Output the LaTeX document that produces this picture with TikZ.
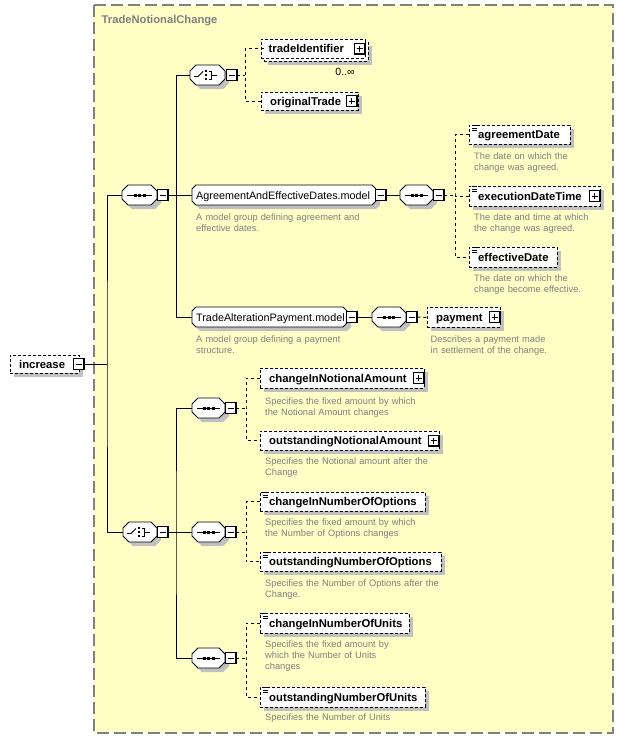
\documentclass[tikz,border=0pt]{standalone}
\usepackage{fontspec}
\setmainfont{Liberation Sans}
\usetikzlibrary{shadows}
\definecolor{bg}{HTML}{FFFFC6}
\definecolor{shadc}{HTML}{C0C0C0}
\definecolor{desc}{HTML}{808080}
\definecolor{framec}{HTML}{808080}
\tikzset{
  shd/.style={drop shadow={shadow xshift=4pt, shadow yshift=-4pt, fill=shadc, opacity=1}},
  elplain/.style={draw, dash pattern=on 3pt off 2pt, line width=0.9pt, fill=white, rectangle, inner sep=0pt, anchor=north west},
  elbox/.style={elplain, shd},
  elname/.style={anchor=base west, inner sep=0pt, font=\fontsize{11.3}{13}\selectfont\bfseries},
  mtext/.style={anchor=base west, inner sep=0pt, font=\fontsize{10.8}{13}\selectfont},
  descr/.style={anchor=base west, inner sep=0pt, text width=220pt, align=left, text=desc, font=\fontsize{9.3}{11.3}\selectfont},
  grpbox/.style={rectangle, minimum height=20pt, inner sep=0pt, outer sep=0pt},
  octo/.style={draw, line width=0.9pt, fill=white, shd},
  pmbox/.style={draw, fill=white, line width=0.8pt, minimum size=11pt, inner sep=0pt},
  conn/.style={line width=1pt},
  dconn/.style={line width=1pt, dash pattern=on 3pt off 3pt},
}
\newcommand\El[6]{%
  \node[elbox, minimum width={(#4-#2)*1pt}, minimum height={(#5-#3)*1pt}] (#1) at (#2,#3) {};
  \node[elname] (#1-t) at ({#2+9},{(#3+#5)/2+4}) {#6};}
\newcommand\PM[4]{%
  \node[pmbox] (#1) at ({#2+5.5},#3) {};
  \draw[line width=1.4pt] ([xshift=-0.3pt]#1.north east) -- ([xshift=-0.3pt,yshift=0.3pt]#1.south east) -- ([yshift=0.3pt]#1.south west);
  \draw[line width=0.9pt] (#1.center) ++(-3,0) -- ++(6,0);
  \ifnum#4=1 \draw[line width=0.9pt] (#1.center) ++(0,-3) -- ++(0,6);\fi}
\newcommand\Simp[1]{\draw[line width=0.8pt] (#1.north west) ++(3,0.5) -- ++(5,0) ++(-5,2.4) -- ++(5,0) ++(-5,2.4) -- ++(5,0);}
% octagon outline: #1 name, #2 width, #3 chamfer
\newcommand\Octo[3]{%
  \draw[octo] (#1.north west) ++(#3,0) -- ++({#2-2*#3},0) -- ++(#3,#3) -- ++(0,{20-2*#3}) -- ++(-#3,#3) -- ++({-(#2-2*#3)},0) -- ++(-#3,-#3) -- ++(0,{-(20-2*#3)}) -- cycle;}
\newcommand\Seq[4]{%
  \node[grpbox, minimum width={(#3-#2)*1pt}] (#1) at ({(#2+#3)/2},#4) {};
  \Octo{#1}{#3-#2}{6}
  \draw[line width=0.9pt] (#1.west) ++(5,0) -- ++({#3-#2-10},0);
  \foreach \d in {-4.5,0,4.5} {\fill (#1.center) ++({\d-1.5},-1.5) rectangle ++(3,3);}}
\newcommand\Ch[4]{%
  \node[grpbox, minimum width={(#3-#2)*1pt}] (#1) at ({(#2+#3)/2},#4) {};
  \Octo{#1}{#3-#2}{6}
  \draw[line width=0.9pt] (#1.west) ++(4,1.5) -- ++(4,0) -- ++(5,-5);
  \foreach \d in {-4,0,4} {\fill (#1.west) ++(15,{\d-1}) rectangle ++(2.2,2.2);}
  \draw[line width=0.9pt] (#1.west) ++(18.5,-4) -- ++(3,0) -- ++(0,8) -- ++(-3,0);
  \draw[line width=0.9pt] (#1.west) ++(21.5,0) -- ++(5,0);}
\newcommand\Model[5]{%
  \node[grpbox, minimum width={(#3-#2)*1pt}] (#1) at ({(#2+#3)/2},#4) {};
  \Octo{#1}{#3-#2}{4}
  \node[mtext] (#1-t) at ({#2+4},{#4+4}) {#5};}
\begin{document}
\begin{tikzpicture}[x=1pt,y=-1pt]
\useasboundingbox (0,0) rectangle (624,739);
\fill[bg] (94,5) rectangle (613,733);
\draw[framec, line width=1.2pt, dash pattern=on 12pt off 5pt] (94,5) rectangle (613,733);
\node[anchor=base west, inner sep=0pt, text=desc, font=\fontsize{11.2}{13}\selectfont\bfseries] (title) at (101.5,23) {TradeNotionalChange};

% root element
\El{inc}{10}{355}{79}{373}{increase}
\PM{incm}{73}{364}{0}

% top sequence and choice
\Seq{seqA}{122}{157}{195}
\PM{seqAm}{157}{195}{0}
\Ch{chA}{190}{225}{75}
\PM{chAm}{226}{75}{0}

% tradeIdentifier (multiple) and originalTrade
\node[elbox, minimum width=104pt, minimum height=19pt] (tidb) at (264,42) {};
\node[elplain, minimum width=104pt, minimum height=19pt] (tid) at (261,39) {};
\node[elname] (tid-t) at (268.5,52.5) {tradeIdentifier};
\PM{tidp}{354}{48.5}{1}
\node[anchor=base, inner sep=0pt, font=\fontsize{10.5}{12}\selectfont] (occ) at (345,75.5) {0..∞};
\El{otr}{261}{92}{358}{110}{originalTrade}
\PM{otrp}{346}{101}{1}

% AgreementAndEffectiveDates.model
\Model{agr}{192}{376}{195}{AgreementAndEffectiveDates.model}
\PM{agrm}{375}{195}{0}
\Seq{seqB}{400}{433}{195}
\PM{seqBm}{433}{195}{0}
\El{agD}{469}{125}{570}{144}{agreementDate}
\Simp{agD}
\El{exD}{469}{186}{600}{206}{executionDateTime}
\Simp{exD}
\PM{exDp}{589}{196}{1}
\El{efD}{469}{247}{557}{267}{effectiveDate}
\Simp{efD}

% TradeAlterationPayment.model
\Model{tap}{192}{347}{317}{TradeAlterationPayment.model}
\PM{tapm}{346}{317}{0}
\Seq{seqC}{372}{406}{317}
\PM{seqCm}{406}{317}{0}
\El{pay}{427}{307}{500}{327}{payment}
\PM{payp}{489}{317}{1}

% bottom choice
\Ch{chB}{123}{157}{532}
\PM{chBm}{157}{532}{0}
\Seq{s1}{192}{225}{408}
\PM{s1m}{225}{408}{0}
\Seq{s2}{192}{225}{532}
\PM{s2m}{225}{532}{0}
\Seq{s3}{192}{225}{658}
\PM{s3m}{225}{658}{0}

\El{cna}{260}{368}{424}{388}{changeInNotionalAmount}
\PM{cnap}{413}{378}{1}
\El{ona}{260}{431}{439}{450}{outstandingNotionalAmount}
\PM{onap}{428}{440.5}{1}
\El{cno}{260}{492}{425}{511}{changeInNumberOfOptions}
\Simp{cno}
\El{ono}{260}{552}{441}{571}{outstandingNumberOfOptions}
\Simp{ono}
\El{cnu}{260}{613}{409}{633}{changeInNumberOfUnits}
\Simp{cnu}
\El{onu}{260}{687}{425}{707}{outstandingNumberOfUnits}
\Simp{onu}

% descriptions
\node[descr] (d-agr) at (196,220.5) {A model group defining agreement and\\effective dates.};
\node[descr] (d-agD) at (474,159.5) {The date on which the\\change was agreed.};
\node[descr] (d-exD) at (474,220.5) {The date and time at which\\the change was agreed.};
\node[descr] (d-efD) at (474,281.5) {The date on which the\\change become effective.};
\node[descr] (d-tap) at (196,342) {A model group defining a payment\\structure.};
\node[descr] (d-pay) at (430.5,342) {Describes a payment made\\in settlement of the change.};
\node[descr] (d-cna) at (265,404) {Specifies the fixed amount by which\\the Notional Amount changes};
\node[descr] (d-ona) at (265,464) {Specifies the Notional amount after the\\Change};
\node[descr] (d-cno) at (265,525.5) {Specifies the fixed amount by which\\the Number of Options changes};
\node[descr] (d-ono) at (265,586.5) {Specifies the Number of Options after the\\Change.};
\node[descr] (d-cnu) at (265,647) {Specifies the fixed amount by\\which the Number of Units\\changes};
\node[descr] (d-onu) at (265,720) {Specifies the Number of Units};

% junctions
\coordinate (j1) at (107,364);
\coordinate (j2) at (176,195);
\coordinate (j3) at (455,195);
\coordinate (j4) at (245,75);
\coordinate (j5) at (176,532);
\coordinate (j6) at (246,408);
\coordinate (j7) at (246,532);
\coordinate (j8) at (246,658);

% solid connectors
\draw[conn] (incm.east) -- (j1);
\draw[conn] (seqA.west) -| (j1) |- (chB.west);
\draw[conn] (seqAm.east) -- (j2);
\draw[conn] (chA.west) -| (j2) -- (agr.west);
\draw[conn] (j2) |- (tap.west);
\draw[conn] (agrm.east) -- (seqB.west);
\draw[conn] (tapm.east) -- (seqC.west);
\draw[conn] (chBm.east) -- (j5);
\draw[conn] (s1.west) -| (j5) |- (s3.west);
\draw[conn] (j5) -- (s2.west);

% dashed connectors
\draw[dconn] (chAm.east) -- (j4);
\draw[dconn] (tidb.west |- tid.west) -| (j4) |- (otr.west);
\draw[dconn] (seqBm.east) -- (j3);
\draw[dconn] (agD.west) -| (j3) |- (efD.west);
\draw[dconn] (j3) |- (exD.west);
\draw[dconn] (seqCm.east) -- (pay.west);
\draw[dconn] (s1m.east) -- (j6);
\draw[dconn] (cna.west) -| (j6) |- (ona.west);
\draw[dconn] (s2m.east) -- (j7);
\draw[dconn] (cno.west) -| (j7) |- (ono.west);
\draw[dconn] (s3m.east) -- (j8);
\draw[dconn] (cnu.west) -| (j8) |- (onu.west);
\end{tikzpicture}
\end{document}
